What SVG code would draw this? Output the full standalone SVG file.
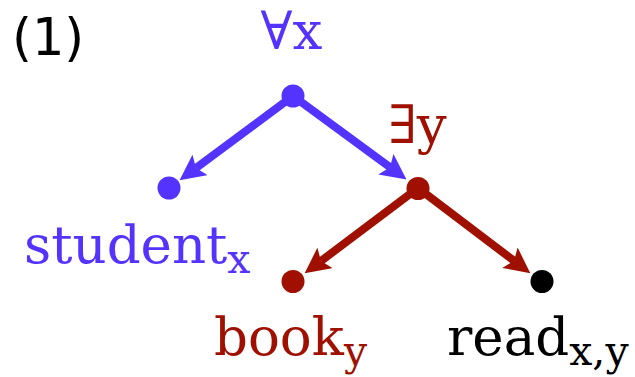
<svg xmlns="http://www.w3.org/2000/svg" width="635" height="377" viewBox="0 0 635 377">
<style>
.t{font-family:"DejaVu Serif",serif;font-size:53px}
.s{font-size:41px}
.b{fill:#5533ff}
.r{fill:#a01000}
.k{fill:#000}
.eb{stroke:#5533ff;stroke-width:8;fill:none}
.er{stroke:#a01000;stroke-width:8;fill:none}
</style>
<defs>
<marker id="ab" viewBox="0 0 10 10" refX="2" refY="5" markerWidth="3.2" markerHeight="3.2" markerUnits="strokeWidth" orient="auto"><path d="M0,0 L10,5 L0,10 L2,5 z" fill="#5533ff"/></marker>
<marker id="ar" viewBox="0 0 10 10" refX="2" refY="5" markerWidth="3.2" markerHeight="3.2" markerUnits="strokeWidth" orient="auto"><path d="M0,0 L10,5 L0,10 L2,5 z" fill="#a01000"/></marker>
</defs>
<text x="12" y="55" style="font-family:'DejaVu Sans',sans-serif;font-size:51px">(1)</text>
<g id="connectors">
<line class="eb" x1="293" y1="96" x2="196" y2="168" marker-end="url(#ab)"/>
<line class="eb" x1="293" y1="96" x2="390" y2="167.3" marker-end="url(#ab)"/>
<line class="er" x1="418" y1="188" x2="321" y2="261" marker-end="url(#ar)"/>
<line class="er" x1="418" y1="188" x2="514" y2="260.8" marker-end="url(#ar)"/>
</g>
<g id="root"><circle cx="293" cy="96" r="11.5" class="b"/><text class="t b" x="291.5" y="49" text-anchor="middle">∀x</text></g>
<g id="student"><circle cx="169" cy="188" r="11.5" class="b"/><text class="t b" x="24" y="263">student<tspan class="s" dy="10">x</tspan></text></g>
<g id="exists"><circle cx="418" cy="188.5" r="11.5" class="r"/><text class="t r" x="388" y="143">∃y</text></g>
<g id="book"><circle cx="293" cy="281.5" r="11.5" class="r"/><text class="t r" x="214" y="355">book<tspan class="s" dy="10">y</tspan></text></g>
<g id="read"><circle cx="542" cy="281.5" r="11.5" class="k"/><text class="t k" x="447" y="355">read<tspan class="s" dy="10">x,y</tspan></text></g>
</svg>
